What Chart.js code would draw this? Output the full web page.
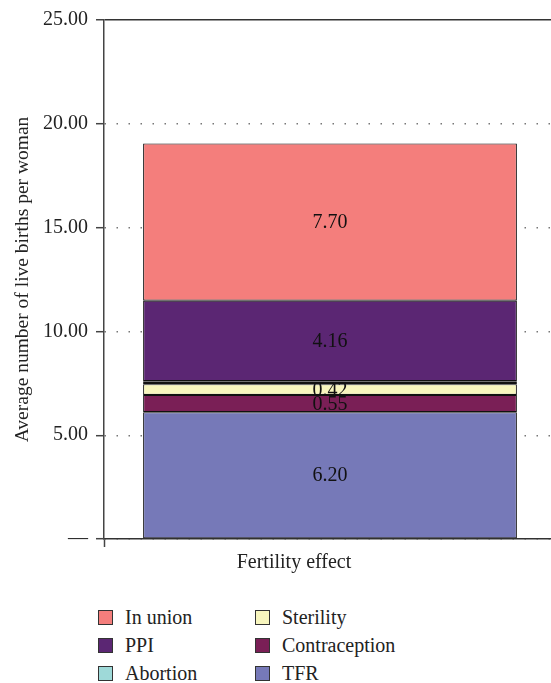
<!DOCTYPE html>
<html>
<head>
<meta charset="utf-8">
<script src="https://cdn.jsdelivr.net/npm/chart.js@4.4.0/dist/chart.umd.min.js"></script>
<style>
  body { margin: 0; background: #fff; }
  #wrap { position: relative; width: 551px; height: 683px; overflow: hidden; }
  #box { position: absolute; left: 0; top: 0; width: 560px; height: 579px; }
  #legend { position: absolute; left: 98px; top: 603px; display: grid;
    grid-template-rows: repeat(3, 28px); grid-auto-flow: column;
    grid-template-columns: 157px 170px; font: 20px "Liberation Serif"; color: #222; }
  .item { display: flex; align-items: center; }
  .sw { width: 13px; height: 13px; border: 1.5px solid #333; margin-right: 12px; }
</style>
</head>
<body>
<div id="wrap">
  <div id="box"><canvas id="myChart"></canvas></div>
  <div id="legend"></div>
</div>
<script>
// values (segment heights), bottom to top
const categories = ['Fertility effect'];
const seriesNames = ['TFR', 'Contraception', 'Sterility', 'Abortion', 'PPI', 'In union'];
const tfr = [6.11];
const contraception = [0.83];
const sterility = [0.52];
const abortion = [0.14];
const ppi = [3.88];
const inUnion = [7.57];
// numbers printed on the bar
const printedLabels = ['6.20', '0.55', '0.42', '', '4.16', '7.70'];
const colors = ['#7679B8', '#7A1F56', '#F8F6BE', '#9ED9D8', '#5B2673', '#F47E7C'];

const serif = '"Liberation Serif", "DejaVu Serif", serif';
const seriesValues = [tfr, contraception, sterility, abortion, ppi, inUnion];

// writes the value in the middle of every segment
const segmentLabels = {
  id: 'segmentLabels',
  afterDatasetsDraw(chart) {
    const ctx = chart.ctx;
    ctx.save();
    ctx.font = '20px ' + serif;
    ctx.fillStyle = '#111';
    ctx.textAlign = 'center';
    ctx.textBaseline = 'middle';
    chart.data.datasets.forEach((ds, i) => {
      chart.getDatasetMeta(i).data.forEach((bar) => {
        const txt = printedLabels[i];
        if (!txt) return;
        const p = bar.getCenterPoint();
        ctx.fillText(txt, p.x, p.y + 1);
      });
    });
    ctx.restore();
  }
};

const canvas = document.getElementById('myChart').getContext('2d');
const myChart = new Chart(canvas, {
  type: 'bar',
  data: {
    labels: categories,
    datasets: seriesNames.map((name, i) => ({
      label: name,
      data: seriesValues[i],
      backgroundColor: colors[i],
      borderColor: '#111',
      borderWidth: name === 'Abortion' ? 2 : 1.1,
      borderSkipped: false,
      barPercentage: 0.827,
      categoryPercentage: 1,
    })),
  },
  plugins: [segmentLabels],
  options: {
    responsive: true,
    maintainAspectRatio: false,
    animation: false,
    layout: { padding: { top: 5, right: 4, left: 0, bottom: 0 } },
    plugins: {
      legend: { display: false },
      tooltip: { enabled: false },
    },
    scales: {
      x: {
        stacked: true,
        grid: { drawOnChartArea: false, offset: true, tickLength: 8, tickColor: '#444', tickWidth: 1.5 },
        border: { color: '#333', width: 1.5 },
        ticks: { labelOffset: -36, padding: 4, color: '#222', font: { family: serif, size: 20 } },
        afterFit: (s) => { s.height = 40; },
      },
      y: {
        stacked: true,
        min: 0,
        max: 25,
        ticks: {
          stepSize: 5,
          padding: 8,
          color: '#222',
          font: { family: serif, size: 20 },
          callback: (v) => (v === 0 ? '—' : v.toFixed(2)),
        },
        grid: {
          color: (c) => (c.tick && c.tick.value === 25 ? '#333' : '#777'),
          lineWidth: (c) => (c.tick && c.tick.value === 25 ? 1.5 : 1.4),
          tickLength: 8,
          tickColor: '#444',
          tickWidth: 1.5,
        },
        border: {
          color: '#444',
          width: 1.5,
          dash: (c) => (c.tick && c.tick.value !== 25 ? [1.5, 10.5] : []),
        },
        title: {
          display: true,
          text: 'Average number of live births per woman',
          color: '#222',
          font: { family: serif, size: 19.5 },
          padding: { top: 11, bottom: 0 },
        },
        afterFit: (s) => { s.width = 104; },
      },
    },
  },
});

// legend in two columns, top of the stack first
const legendBox = document.getElementById('legend');
myChart.data.datasets.slice().reverse().forEach((ds) => {
  const item = document.createElement('div');
  item.className = 'item';
  const sw = document.createElement('span');
  sw.className = 'sw';
  sw.style.background = ds.backgroundColor;
  item.appendChild(sw);
  item.appendChild(document.createTextNode(ds.label));
  legendBox.appendChild(item);
});
</script>
</body>
</html>
